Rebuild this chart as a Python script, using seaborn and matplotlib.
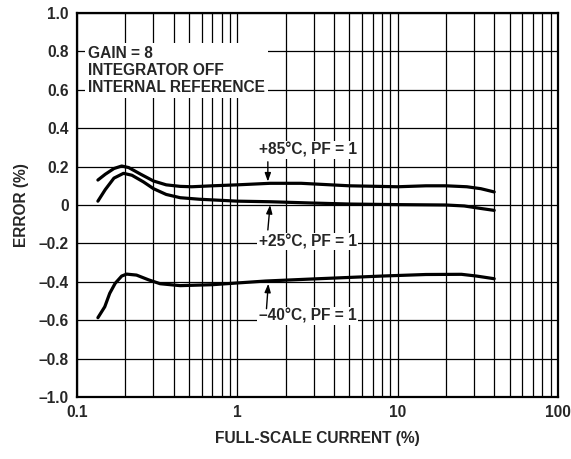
import matplotlib
matplotlib.use("Agg")
import matplotlib.pyplot as plt
import seaborn as sns
import pandas as pd
import numpy as np
from matplotlib.ticker import FixedLocator, FixedFormatter, LogLocator, NullFormatter

# ---- data ----
x_85 = [0.135, 0.15, 0.17, 0.19, 0.21, 0.25, 0.3, 0.36, 0.44, 0.52, 0.7, 1.0, 1.6, 2.5, 5, 10, 15, 20, 27, 33, 40]
y_85 = [0.13, 0.16, 0.19, 0.203, 0.195, 0.16, 0.125, 0.105, 0.097, 0.095, 0.1, 0.105, 0.113, 0.113, 0.1, 0.095, 0.1, 0.1, 0.095, 0.085, 0.068]

x_25 = [0.135, 0.15, 0.17, 0.195, 0.22, 0.26, 0.3, 0.36, 0.44, 0.58, 1.0, 1.6, 3, 5, 10, 20, 26, 33, 40]
y_25 = [0.02, 0.08, 0.14, 0.165, 0.155, 0.12, 0.085, 0.055, 0.038, 0.03, 0.02, 0.017, 0.01, 0.005, 0.002, 0.0, -0.005, -0.018, -0.028]

x_m40 = [0.135, 0.149, 0.16, 0.173, 0.19, 0.204, 0.235, 0.28, 0.33, 0.44, 0.7, 1.5, 3, 8, 15, 25, 31, 40]
y_m40 = [-0.587, -0.53, -0.46, -0.408, -0.37, -0.36, -0.365, -0.39, -0.41, -0.42, -0.415, -0.396, -0.385, -0.37, -0.362, -0.361, -0.37, -0.384]

series_labels = ["+85°C, PF = 1", "+25°C, PF = 1", "–40°C, PF = 1"]

y_tick_values = [1.0, 0.8, 0.6, 0.4, 0.2, 0.0, -0.2, -0.4, -0.6, -0.8, -1.0]
y_tick_labels = ["1.0", "0.8", "0.6", "0.4", "0.2", "0", "–0.2", "–0.4", "–0.6", "–0.8", "–1.0"]
x_tick_values = [0.1, 1, 10, 100]
x_tick_labels = ["0.1", "1", "10", "100"]

info_text = "GAIN = 8\nINTEGRATOR OFF\nINTERNAL REFERENCE"

df = pd.concat([
    pd.DataFrame({"x": x_85, "y": y_85, "s": series_labels[0]}),
    pd.DataFrame({"x": x_25, "y": y_25, "s": series_labels[1]}),
    pd.DataFrame({"x": x_m40, "y": y_m40, "s": series_labels[2]}),
], ignore_index=True)

# ---- style ----
sns.set_style("white")
plt.rcParams["font.family"] = ["Liberation Sans", "DejaVu Sans"]
plt.rcParams["font.weight"] = "bold"
FS = 11.2

fig = plt.figure(figsize=(5.71, 4.59), dpi=100)
ax = fig.add_axes([77/571, 1 - 397/459, (558 - 77)/571, (397 - 13)/459])

sns.lineplot(data=df, x="x", y="y", units="s", estimator=None, sort=False,
             color="black", lw=2.3, ax=ax, zorder=3, legend=False)

ax.set_xscale("log")
ax.set_xlim(0.1, 100)
ax.set_ylim(-1.0, 1.0)

ax.xaxis.set_major_locator(FixedLocator(x_tick_values))
ax.xaxis.set_major_formatter(FixedFormatter(x_tick_labels))
ax.xaxis.set_minor_locator(LogLocator(base=10, subs=np.arange(2, 10)))
ax.xaxis.set_minor_formatter(NullFormatter())
ax.yaxis.set_major_locator(FixedLocator(y_tick_values))
ax.yaxis.set_major_formatter(FixedFormatter(y_tick_labels))

ax.grid(True, which="both", axis="x", color="black", lw=0.9)
ax.grid(True, which="major", axis="y", color="black", lw=0.9)
ax.set_axisbelow(True)
ax.tick_params(which="both", length=0, labelsize=FS, pad=6)
for lab in ax.get_xticklabels() + ax.get_yticklabels():
    lab.set_fontweight("bold")

for sp in ax.spines.values():
    sp.set_visible(True)
    sp.set_color("black")
    sp.set_linewidth(1.6)

ax.set_xlabel("FULL-SCALE CURRENT (%)", fontsize=FS, fontweight="bold", labelpad=8)
ax.set_ylabel("ERROR (%)", fontsize=FS, fontweight="bold", labelpad=7)

# info box
ax.text(0.117, 0.70, info_text, fontsize=FS, fontweight="bold", va="center", ha="left",
        linespacing=1.2, zorder=4,
        bbox=dict(facecolor="white", edgecolor="none", pad=2))

# annotations
bbox_w = dict(facecolor="white", edgecolor="none", pad=1.0)
ax.text(2.74, 0.285, series_labels[0], fontsize=FS, fontweight="bold", ha="center", va="center",
        bbox=bbox_w, zorder=4)
ax.text(2.74, -0.19, series_labels[1], fontsize=FS, fontweight="bold", ha="center", va="center",
        bbox=bbox_w, zorder=4)
ax.text(2.74, -0.58, series_labels[2], fontsize=FS, fontweight="bold", ha="center", va="center",
        bbox=bbox_w, zorder=4)

arrow = dict(arrowstyle="-|>,head_length=0.5,head_width=0.18", color="black", lw=1.0,
             shrinkA=0, shrinkB=0)
ax.annotate("", xy=(1.55, 0.122), xytext=(1.55, 0.225), arrowprops=arrow, zorder=5)
ax.annotate("", xy=(1.6, 0.0), xytext=(1.55, -0.13), arrowprops=arrow, zorder=5)
ax.annotate("", xy=(1.56, -0.41), xytext=(1.52, -0.54), arrowprops=arrow, zorder=5)

fig.savefig("out.png", dpi=100)
